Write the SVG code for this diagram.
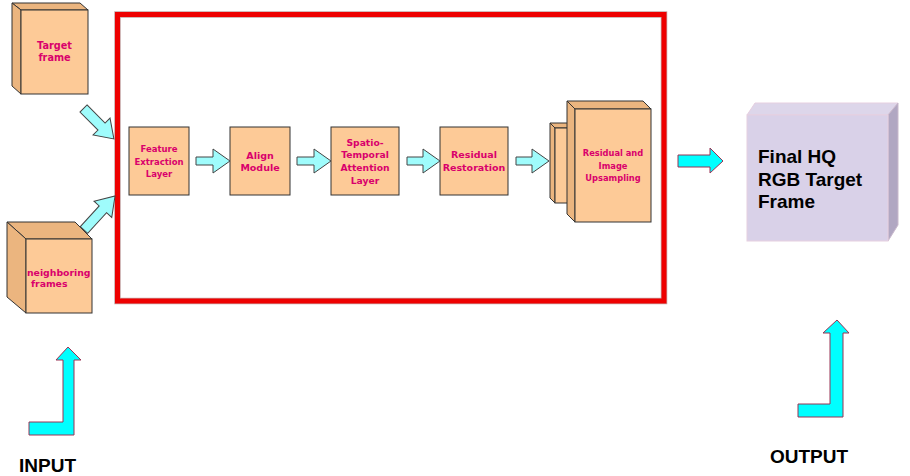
<svg xmlns="http://www.w3.org/2000/svg" width="910" height="476" viewBox="0 0 910 476">
<style>
.front{fill:#fdca97;stroke:#333;stroke-width:1}
.side{fill:#ebb57f;stroke:#333;stroke-width:1}
.lbl{font-family:"DejaVu Sans",Verdana,sans-serif;font-weight:bold;fill:#d9006c;text-anchor:middle}
.lbls{font-family:"DejaVu Sans",Verdana,sans-serif;font-weight:bold;fill:#d9006c;text-anchor:start}
.big{font-family:"Liberation Sans",Arial,sans-serif;font-weight:bold;fill:#000}
.arr{fill:#9ffcfc;stroke:#444;stroke-width:1}
.arr2{fill:#00ffff;stroke:#993355;stroke-width:1}
</style>
<rect width="910" height="476" fill="#fff"/>

<g id="processing-box">
<rect x="117.5" y="14.5" width="546.5" height="286.5" fill="none" stroke="#c4a4a4" stroke-width="6.5"/>
<rect x="117.5" y="14.5" width="546.5" height="286.5" fill="none" stroke="#ee0000" stroke-width="5"/>
</g>

<g id="target-frame">
<polygon class="side" points="12,3 80,3 88,10 21,10"/>
<polygon class="side" points="12,3 21,10 21,94 12,86"/>
<rect class="front" x="21" y="10" width="67" height="84"/>
<text class="lbl" font-size="9.7" x="54.5" y="48.5">Target</text>
<text class="lbl" font-size="9.7" x="54.5" y="61">frame</text>
</g>

<g id="neighboring-frames">
<polygon class="side" points="7,222 75,222 92,239 26,239"/>
<polygon class="side" points="7,222 26,239 26,313 7,297"/>
<rect class="front" x="26" y="239" width="66" height="74"/>
<text class="lbls" font-size="9.3" x="27" y="275.5">neighboring</text>
<text class="lbls" font-size="9.3" x="31" y="287">frames</text>
</g>

<g id="feature-extraction">
<rect class="front" x="129" y="127" width="60" height="68"/>
<text class="lbl" font-size="8.5" x="159" y="152">Feature</text>
<text class="lbl" font-size="8.5" x="159" y="164.5">Extraction</text>
<text class="lbl" font-size="8.5" x="159" y="176.5">Layer</text>
</g>

<g id="align-module">
<rect class="front" x="230" y="127" width="60" height="68"/>
<text class="lbl" font-size="9.5" x="260" y="158.5">Align</text>
<text class="lbl" font-size="9.5" x="260" y="171">Module</text>
</g>

<g id="spatio-temporal">
<rect class="front" x="331" y="127" width="68" height="68"/>
<text class="lbl" font-size="9.2" x="365" y="145.5">Spatio-</text>
<text class="lbl" font-size="9.2" x="365" y="158">Temporal</text>
<text class="lbl" font-size="9.2" x="365" y="170.5">Attention</text>
<text class="lbl" font-size="9.2" x="365" y="183.5">Layer</text>
</g>

<g id="residual-restoration">
<rect class="front" x="440" y="127" width="68" height="68"/>
<text class="lbl" font-size="9.5" x="474" y="157.5">Residual</text>
<text class="lbl" font-size="9.5" x="474" y="170.5">Restoration</text>
</g>

<g id="upsampling">
<polygon class="side" points="550,123 570,123 575,128 555,128"/>
<polygon class="side" points="550,123 555,128 555,203 550,198"/>
<rect class="front" x="555" y="128" width="30" height="75"/>
<polygon class="side" points="567,101 643,101 651,109 575,109"/>
<polygon class="side" points="567,101 575,109 575,222 567,214"/>
<rect class="front" x="575" y="109" width="76" height="113"/>
<text class="lbl" font-size="8.3" x="613" y="156">Residual and</text>
<text class="lbl" font-size="8.3" x="613" y="169">Image</text>
<text class="lbl" font-size="8.3" x="613" y="181">Upsampling</text>
</g>

<g id="final-output">
<polygon points="755,103 898,103 888,115 747,115" fill="#ddd6ea" stroke="#e6cfe0" stroke-width="1"/>
<polygon points="898,103 898,225 888,241 888,115" fill="#b1a7c2" stroke="#c9b9cc" stroke-width="1"/>
<rect x="747" y="115" width="141" height="126" fill="#d9d1e8" stroke="#e6cfe0" stroke-width="1"/>
<text class="big" font-size="19" x="758" y="163">Final HQ</text>
<text class="big" font-size="19" x="758" y="186">RGB Target</text>
<text class="big" font-size="19" x="758" y="208">Frame</text>
</g>

<g id="input-label">
<text class="big" font-size="19" x="19" y="472">INPUT</text>
</g>
<g id="output-label">
<text class="big" font-size="19" x="770" y="463">OUTPUT</text>
</g>

<g id="connectors">
<polygon class="arr" transform="translate(83.5,108.5) rotate(45)" points="0,-5 25.5,-5 25.5,-12 43,0 25.5,12 25.5,5 0,5"/>
<polygon class="arr" transform="translate(84,230) rotate(-47.6)" points="0,-5 28,-5 28,-12 46,0 28,12 28,5 0,5"/>
<polygon class="arr" points="196,157 213,157 213,149 230,161 213,173 213,165 196,165"/>
<polygon class="arr" points="297,157 314,157 314,149 331,161 314,173 314,165 297,165"/>
<polygon class="arr" points="407,157 423,157 423,149 440,161 423,173 423,165 407,165"/>
<polygon class="arr" points="516,157 532,157 532,149 549,161 532,173 532,165 516,165"/>
<polygon class="arr2" points="678,155 710,155 710,148 723,161 710,173 710,167 678,167"/>
<polygon class="arr2" points="29,422 63,422 63,360 56,360 68,347 81,360 74,360 74,435 29,435"/>
<polygon class="arr2" points="798,404 830,404 830,333 823,333 837,320 849,333 843,333 843,417 798,417"/>
</g>
</svg>
